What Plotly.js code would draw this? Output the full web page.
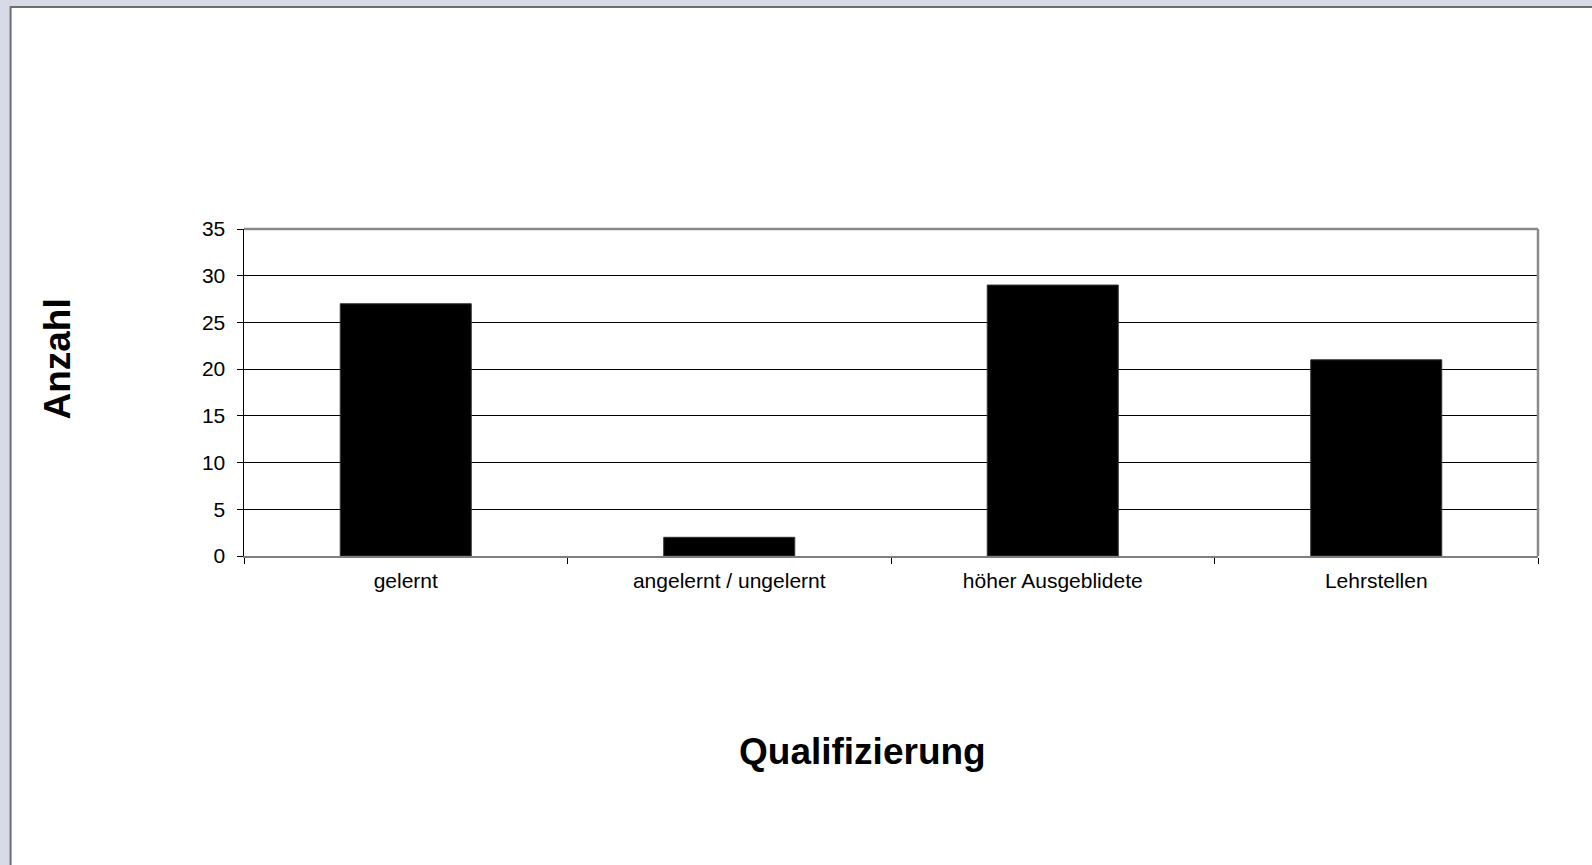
<!DOCTYPE html>
<html>
<head>
<meta charset="utf-8">
<script src="https://cdn.plot.ly/plotly-3.0.1.min.js"></script>
<style>
html,body{margin:0;padding:0;background:#d6dbe6;}
#chart{width:1592px;height:865px;}
</style>
</head>
<body>
<div id="chart"></div>
<script>
const categories = ["gelernt", "angelernt / ungelernt", "höher Ausgeblidete", "Lehrstellen"];
const values = [27, 2, 29, 21];
const yTicks = [0, 5, 10, 15, 20, 25, 30, 35];
const xTitle = "Qualifizierung";
const yTitle = "Anzahl";

const W = 1592, H = 865;
const L = 243.5, R = 54, T = 229, B = 309;
const pw = W - L - R, ph = H - T - B;
const px = x => (x - L) / pw;
const py = y => (H - B - y) / ph;

const trace = {
  type: "bar",
  x: categories,
  y: values,
  marker: {color: "#000000", line: {color: "#333333", width: 1}},
  hoverinfo: "x+y"
};

const layout = {
  width: W, height: H,
  margin: {l: L, r: R, t: T, b: B, pad: 0},
  paper_bgcolor: "#d6dbe6",
  plot_bgcolor: "#ffffff",
  showlegend: false,
  bargap: 0.595,
  font: {family: "Liberation Sans, Arial, sans-serif", color: "#000000"},
  xaxis: {
    type: "category",
    range: [-0.5, categories.length - 0.5],
    showgrid: false,
    showline: true, linecolor: "#7f7f7f", linewidth: 2,
    ticks: "outside", tickson: "boundaries", ticklen: 6, tickcolor: "#000000", tickwidth: 1,
    tickfont: {size: 21, family: "Liberation Sans, Arial, sans-serif"},
    ticklabelstandoff: 5,
    zeroline: false,
    fixedrange: true
  },
  yaxis: {
    range: [0, 35],
    tickvals: yTicks,
    ticktext: yTicks.map(String),
    showgrid: true, gridcolor: "#000000", gridwidth: 1,
    showline: true, linecolor: "#000000", linewidth: 1.5,
    ticks: "outside", ticklen: 6, tickcolor: "#000000", tickwidth: 1,
    tickfont: {size: 21, family: "Liberation Sans, Arial, sans-serif"},
    ticklabelstandoff: 7,
    zeroline: false,
    fixedrange: true
  },
  shapes: [
    {type: "rect", xref: "paper", yref: "paper", layer: "below",
     x0: px(10), x1: px(1640), y0: py(7), y1: py(920),
     fillcolor: "#ffffff", line: {color: "#6e6e6e", width: 2}},
    {type: "line", xref: "paper", yref: "paper", layer: "above",
     x0: 0, x1: 1, y0: 1, y1: 1, line: {color: "#8a8a8a", width: 2.5}},
    {type: "line", xref: "paper", yref: "paper", layer: "above",
     x0: 1, x1: 1, y0: 0, y1: 1, line: {color: "#8a8a8a", width: 2.5}}
  ],
  annotations: [
    {text: "<b>" + xTitle + "</b>", xref: "paper", yref: "paper",
     x: px(862), y: py(751), xanchor: "center", yanchor: "middle", showarrow: false,
     font: {size: 37, family: "Liberation Sans, Arial, sans-serif", color: "#000000"}},
    {text: "<b>" + yTitle + "</b>", xref: "paper", yref: "paper",
     x: px(56), y: py(359), xanchor: "center", yanchor: "middle", showarrow: false, textangle: -90,
     font: {size: 37, family: "Liberation Sans, Arial, sans-serif", color: "#000000"}}
  ]
};

Plotly.newPlot("chart", [trace], layout, {displayModeBar: false, staticPlot: true});
</script>
</body>
</html>
